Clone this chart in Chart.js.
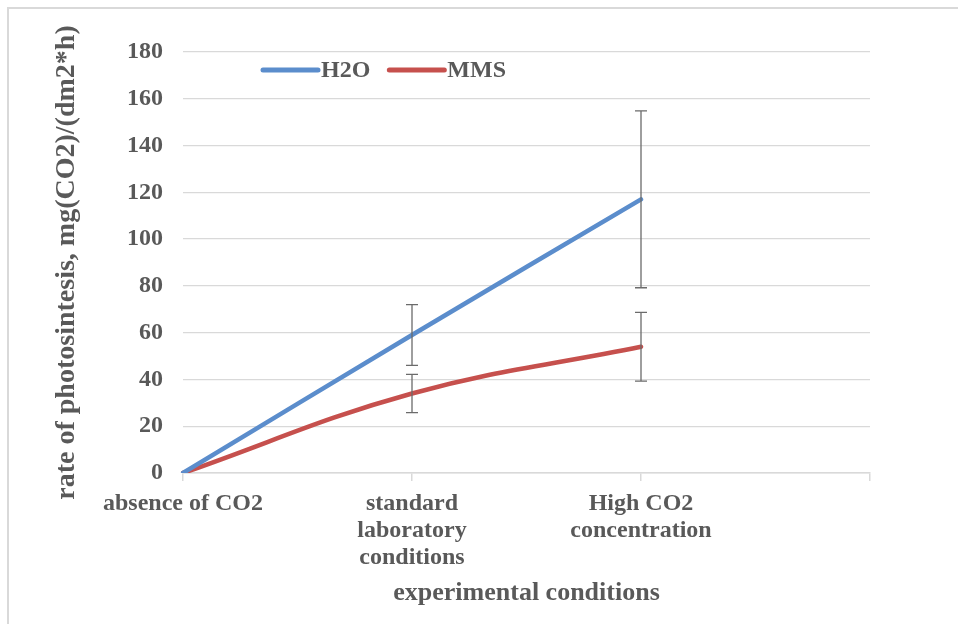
<!DOCTYPE html>
<html>
<head>
<meta charset="utf-8">
<script src="https://cdn.jsdelivr.net/npm/chart.js@4.4.0/dist/chart.umd.min.js"></script>
<style>
  html, body { margin: 0; padding: 0; background: #ffffff; overflow: hidden; width: 958px; height: 624px; }
  #frame { position: absolute; left: 7px; top: 7px; width: 980px; height: 640px;
           border-left: 2px solid #d9d9d9; border-top: 2px solid #d9d9d9; }
  #wrap { position: absolute; left: 0; top: 0; width: 958px; height: 624px; overflow: hidden; }
</style>
</head>
<body>
<div id="wrap">
<div id="frame"></div>
<canvas id="c" width="958" height="624" style="position:absolute;left:0;top:0;"></canvas>
</div>
<script>
// ---- data ----
const categories = ['absence of CO2', ['standard', 'laboratory', 'conditions'], ['High CO2', 'concentration'], ''];
const seriesNames = ['H2O', 'MMS'];
const h2oValues = [0, 59, 117, null];
const mmsValues = [0, 34, 54, null];
const h2oErrors = [null, 13, 37.8, null];
const mmsErrors = [null, 8.2, 14.7, null];
const yTickMin = 0;
const yTickMax = 180;
const yTickStep = 20;
const xAxisTitle = 'experimental conditions';
const yAxisTitle = 'rate of photosintesis, mg(CO2)/(dm2*h)';

const textColor = '#595959';
const fontFamily = "'Liberation Serif', 'Times New Roman', serif";

const errorBarPlugin = {
  id: 'errorBars',
  afterDatasetsDraw(chart) {
    const ctx = chart.ctx;
    const yScale = chart.scales.y;
    chart.data.datasets.forEach((ds, i) => {
      const meta = chart.getDatasetMeta(i);
      const errs = ds.errors || [];
      meta.data.forEach((pt, j) => {
        const v = ds.data[j];
        const e = errs[j];
        if (v == null || e == null) return;
        const x = pt.x;
        const yTop = yScale.getPixelForValue(v + e);
        const yBot = yScale.getPixelForValue(v - e);
        ctx.save();
        ctx.strokeStyle = '#6b6b6b';
        ctx.lineWidth = 1.3;
        ctx.beginPath();
        ctx.moveTo(x, yTop); ctx.lineTo(x, yBot);
        ctx.moveTo(x - 6, yTop); ctx.lineTo(x + 6, yTop);
        ctx.moveTo(x - 6, yBot); ctx.lineTo(x + 6, yBot);
        ctx.stroke();
        ctx.restore();
      });
    });
  }
};

const legendPlugin = {
  id: 'insideLegend',
  afterDraw(chart) {
    const ctx = chart.ctx;
    const area = chart.chartArea;
    let x = area.left + 80;
    const y = area.top + 18;
    ctx.save();
    ctx.font = 'bold 24px ' + fontFamily;
    ctx.textBaseline = 'middle';
    chart.data.datasets.forEach((ds) => {
      ctx.strokeStyle = ds.borderColor;
      ctx.lineWidth = 5;
      ctx.lineCap = 'round';
      ctx.beginPath();
      ctx.moveTo(x, y); ctx.lineTo(x + 55, y);
      ctx.stroke();
      x += 58;
      ctx.fillStyle = textColor;
      ctx.fillText(ds.label, x, y + 1);
      x += ctx.measureText(ds.label).width + 19;
    });
    ctx.restore();
  }
};

new Chart(document.getElementById('c'), {
  type: 'line',
  data: {
    labels: categories,
    datasets: [
      { label: seriesNames[0], data: h2oValues, errors: h2oErrors, borderColor: '#5b8dcc',
        backgroundColor: '#5b8dcc', borderWidth: 4.5, pointRadius: 0, tension: 0.4, borderCapStyle: 'round' },
      { label: seriesNames[1], data: mmsValues, errors: mmsErrors, borderColor: '#c6504d',
        backgroundColor: '#c6504d', borderWidth: 4.5, pointRadius: 0, tension: 0.4, borderCapStyle: 'round' }
    ]
  },
  options: {
    responsive: false,
    animation: false,
    layout: { padding: { top: 52, right: 88, left: 0, bottom: 0 } },
    plugins: { legend: { display: false }, tooltip: { enabled: false } },
    scales: {
      x: {
        type: 'category',
        offset: false,
        afterFit(scale) { scale.height = 151; },
        grid: { display: true, drawOnChartArea: false, drawTicks: true, tickLength: 8, color: '#d9d9d9', lineWidth: 1.5 },
        border: { display: true, color: '#d9d9d9', width: 1.5 },
        ticks: { color: textColor, font: { family: fontFamily, size: 24, weight: 'bold', lineHeight: 1.13 },
                 padding: 9, maxRotation: 0, autoSkip: false },
        title: { display: true, text: xAxisTitle, color: textColor,
                 font: { family: fontFamily, size: 26, weight: 'bold' }, padding: { top: 0, bottom: 15 } }
      },
      y: {
        min: yTickMin, max: yTickMax,
        afterFit(scale) { scale.width = 183; },
        grid: { color: '#d9d9d9', lineWidth: 1.3, drawTicks: false },
        border: { display: false },
        ticks: { stepSize: yTickStep, color: textColor, font: { family: fontFamily, size: 24, weight: 'bold' }, padding: 20 },
        title: { display: true, text: yAxisTitle, color: textColor,
                 font: { family: fontFamily, size: 28, weight: 'bold' }, padding: { top: 50, bottom: 0 } }
      }
    }
  },
  plugins: [errorBarPlugin, legendPlugin]
});
</script>
</body>
</html>
